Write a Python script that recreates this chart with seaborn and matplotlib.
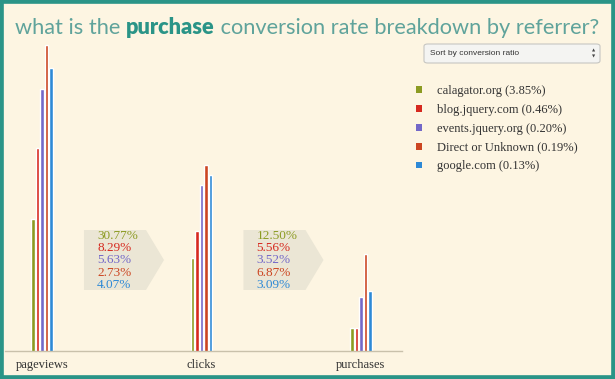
import pandas as pd
import seaborn as sns
import matplotlib.pyplot as plt
from matplotlib.patches import Polygon, Rectangle, FancyBboxPatch, Patch
from matplotlib.transforms import blended_transform_factory

stages = ["pageviews", "clicks", "purchases"]
referrers = ["calagator.org", "blog.jquery.com", "events.jquery.org", "Direct or Unknown", "google.com"]
colors = ["#8c9b22", "#d6291f", "#7368c8", "#cc4521", "#2d89d6"]
pageviews = [52, 434, 2522, 9590, 4767]
clicks = [16, 36, 142, 262, 194]
purchases = [2, 2, 5, 18, 6]

W, H = 615, 379
BG = "#fdf5e2"
TEAL = "#2a9487"
LIGHT_TEAL = "#5fa39b"

def fx(px):
    return px / W

def fy(py):
    return 1 - py / H

counts = [pageviews, clicks, purchases]
overall = [p / v * 100 for p, v in zip(purchases, pageviews)]
labels = [f"{r} ({o:.2f}%)" for r, o in zip(referrers, overall)]

rows = []
for s, vals in zip(stages, counts):
    for lab, v in zip(labels, vals):
        rows.append({"stage": s, "referrer": lab, "count": v})
df = pd.DataFrame(rows)

sns.set_style("white")
plt.rcParams["font.family"] = ["Liberation Serif", "DejaVu Serif"]

fig = plt.figure(figsize=(W / 100, H / 100), dpi=100, facecolor=BG)
ax = fig.add_axes([fx(5), 28 / H, fx(402) - fx(5), (351 - 40) / H])
ax.set_facecolor(BG)

sns.barplot(data=df, x="stage", y="count", hue="referrer", order=stages,
            hue_order=labels, palette=colors, width=0.141, gap=0.33,
            saturation=1, errorbar=None, legend=False, ax=ax)
ax.set_yscale("log")
ax.set_ylim(1, 11050)
ax.set_xlim(-37 / 159.5, 360 / 159.5)
ax.set_xlabel("")
ax.set_ylabel("")
ax.set_yticks([])
ax.minorticks_off()
ax.tick_params(axis="x", length=0, pad=5.5, labelsize=9, labelcolor="#333333")
for side in ["left", "top", "right"]:
    ax.spines[side].set_visible(False)
ax.spines["bottom"].set_color("#c9c1ab")
ax.spines["bottom"].set_linewidth(1)

# conversion arrows between stages
tr = blended_transform_factory(ax.transData, fig.transFigure)
for i in range(2):
    pts = [(i + 0.263, fy(230)), (i + 0.652, fy(230)), (i + 0.765, fy(260)),
           (i + 0.652, fy(290)), (i + 0.263, fy(290))]
    ax.add_patch(Polygon(pts, closed=True, transform=tr, facecolor="#ebe6d5",
                         edgecolor="none", clip_on=False, zorder=0))
    for k in range(len(referrers)):
        rate = counts[i + 1][k] / counts[i][k] * 100
        ax.text(i + 0.345, fy(236 + 12.2 * k), f"{rate:.2f}%", transform=tr,
                color=colors[k], fontsize=9.5, va="center", ha="left")

handles = [Patch(facecolor=c, edgecolor="none", label=l) for c, l in zip(colors, labels)]
leg = fig.legend(handles=handles, loc="upper left", bbox_to_anchor=(fx(416), fy(85)),
                 bbox_transform=fig.transFigure, frameon=False, fontsize=9,
                 handlelength=0.45, handleheight=0.45, handletextpad=1.2,
                 labelspacing=0.55, borderpad=0, borderaxespad=0)
for t in leg.get_texts():
    t.set_color("#333333")

# title, sized so the whole line spans the same width as the original
parts = [("what is the ", LIGHT_TEAL, "normal"), ("purchase", TEAL, "heavy"),
         (" conversion rate breakdown by referrer?", LIGHT_TEAL, "normal")]
renderer = fig.canvas.get_renderer()
probe = [fig.text(0, 0, s, fontsize=10, family="Lato", fontweight=w) for s, c, w in parts]
total = sum(p.get_window_extent(renderer).width for p in probe)
for p in probe:
    p.remove()
size = 10 * (600 - 15) / total
x = 15
for s, c, w in parts:
    t = fig.text(fx(x), fy(34), s, fontsize=size, color=c, family="Lato",
                 fontweight=w, va="baseline")
    x += t.get_window_extent(renderer).width

# sort dropdown
fig.patches.append(FancyBboxPatch((fx(424), fy(63)), fx(600) - fx(424), fy(44) - fy(63),
                                  boxstyle="round,pad=0,rounding_size=0.006",
                                  transform=fig.transFigure, facecolor="#f4f4f2",
                                  edgecolor="#c6c6c2", linewidth=0.8))
fig.text(fx(430), fy(53.5), "Sort by conversion ratio", fontsize=6,
         family="Liberation Sans", color="#333333", va="center")
fig.text(fx(594), fy(51), "\u25b2", fontsize=3, family="DejaVu Sans",
         color="#444444", va="center", ha="center")
fig.text(fx(594), fy(56), "\u25bc", fontsize=3, family="DejaVu Sans",
         color="#444444", va="center", ha="center")

# frame
fig.patches.append(Rectangle((0, 0), 1, 1, transform=fig.transFigure,
                             facecolor="none", edgecolor=TEAL, linewidth=5.5))

fig.savefig("out.png", dpi=100, facecolor=BG)
